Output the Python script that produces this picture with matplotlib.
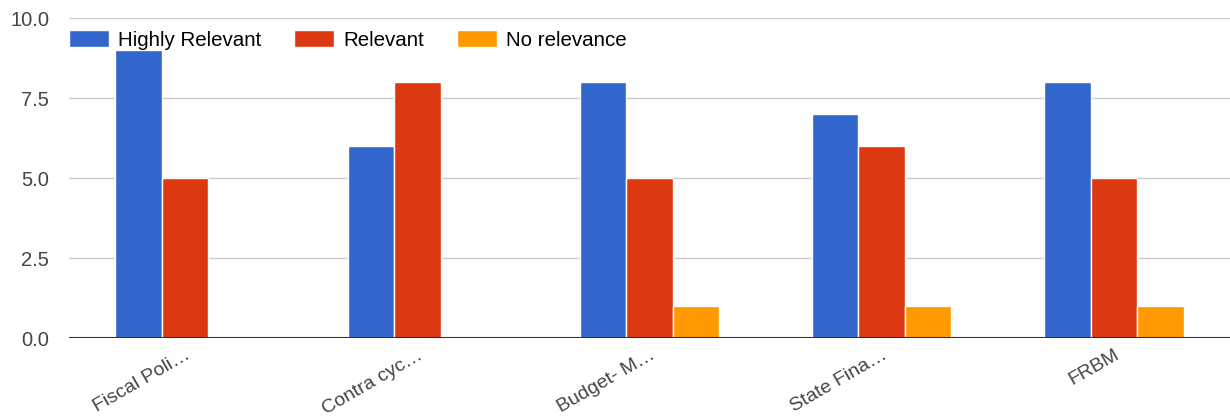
import matplotlib.pyplot as plt
import matplotlib.transforms as mtransforms
import numpy as np

categories = ['Fiscal Poli…', 'Contra cyc…', 'Budget- M…', 'State Fina…', 'FRBM']
highly_relevant = [9, 6, 8, 7, 8]
relevant = [5, 8, 5, 6, 5]
no_relevance = [0, 0, 1, 1, 1]

series = [
    ('Highly Relevant', highly_relevant, '#3366cc'),
    ('Relevant', relevant, '#dc3912'),
    ('No relevance', no_relevance, '#ff9900'),
]

plt.rcParams['font.family'] = ['Liberation Sans', 'DejaVu Sans']

fig = plt.figure(figsize=(12.3, 4.17), dpi=100)
ax = fig.add_axes([0.0561, 0.1894, 0.9439, 0.7674])

x = np.arange(len(categories))
width = 0.2
for i, (name, vals, color) in enumerate(series):
    ax.bar(x + (i - 1) * width, vals, width, color=color, label=name,
           edgecolor='white', linewidth=1, zorder=3)

ax.set_xlim(-0.5, len(categories) - 0.5)
ax.set_ylim(0, 10)
ax.set_yticks([0, 2.5, 5, 7.5, 10])
ax.set_yticklabels(['0.0', '2.5', '5.0', '7.5', '10.0'])
ax.grid(axis='y', color='#cccccc', linewidth=1, zorder=0)
ax.axhline(0, color='#333333', linewidth=1.5, zorder=4)
for s in ax.spines.values():
    s.set_visible(False)
ax.tick_params(axis='y', length=0, labelsize=14.5, labelcolor='#444444', pad=14.4)
ax.tick_params(axis='x', length=0, labelsize=14, labelcolor='#444444', pad=6)
ax.set_xticks(x)
ax.set_xticklabels(categories, rotation=30, ha='right', rotation_mode='anchor')
offset = mtransforms.ScaledTranslation(0.0, 0, fig.dpi_scale_trans)
for lbl in ax.get_xticklabels():
    lbl.set_transform(lbl.get_transform() + offset)

ax.legend(loc='center left', bbox_to_anchor=(0.0, 0.931), ncol=3, frameon=False,
          fontsize=14.8, handlelength=1.94, handleheight=0.87, handletextpad=0.44,
          columnspacing=1.6, borderaxespad=0, borderpad=0)

fig.savefig('out.png', dpi=100)
